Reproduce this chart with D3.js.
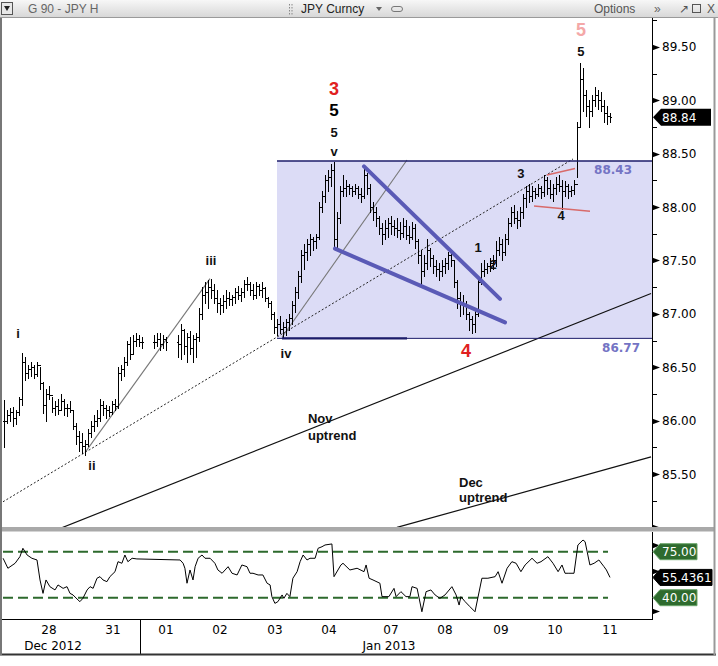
<!DOCTYPE html>
<html><head><meta charset="utf-8">
<script src="https://cdn.jsdelivr.net/npm/d3@7"></script>
<style>html,body{margin:0;padding:0;background:#fff;} svg{display:block;}</style>
</head><body>
<svg id="c" width="718" height="666"></svg>
<script>
// ---------- DATA (hourly USD/JPY bars, index = bar number) ----------
const highs = [
86.19,86.10,86.12,86.13,86.10,86.22,86.63,86.60,86.52,86.55,
86.52,86.55,86.50,86.36,86.30,86.32,86.22,86.18,86.20,86.25,
86.20,86.16,86.18,86.10,85.98,85.90,85.88,85.82,85.92,86.00,
86.05,86.10,86.20,86.18,86.15,86.14,86.18,86.20,86.50,86.52,
86.60,86.75,86.78,86.80,86.82,86.80,86.78,null,null,null,
86.80,86.82,86.82,86.80,86.78,null,null,null,86.80,86.90,
86.86,86.82,86.84,86.80,86.82,87.05,87.25,87.30,87.32,87.33,
87.28,87.22,87.15,87.18,87.22,87.20,87.18,87.24,87.26,87.24,
87.32,87.34,87.30,87.28,87.30,87.28,87.30,87.25,87.16,87.12,
87.02,86.95,86.98,86.92,86.95,87.00,87.12,87.25,87.40,87.60,
87.65,87.70,87.75,87.72,87.75,88.05,88.15,88.30,88.35,88.40,
88.42,87.95,88.20,88.30,88.25,88.22,88.20,88.22,88.20,88.18,
88.38,88.32,88.22,88.05,88.00,87.92,87.85,87.88,87.90,87.92,
87.88,87.90,87.86,87.90,87.88,87.82,87.86,87.84,87.70,87.60,
87.55,87.70,87.62,87.55,87.50,87.48,87.50,87.52,87.58,87.60,
87.50,87.32,87.20,87.18,87.12,87.02,86.98,87.05,87.35,87.48,
87.50,87.48,87.52,87.55,87.68,87.72,87.70,87.75,87.90,88.00,
88.02,87.96,88.00,88.12,88.20,88.22,88.20,88.18,88.22,88.20,
88.30,88.28,88.25,88.22,88.28,88.30,88.25,88.24,88.22,88.20,
88.25,88.80,89.35,89.30,89.10,89.00,89.05,89.12,89.10,89.08,
89.00,88.95,88.88];
const lows = [
85.75,85.98,86.00,85.95,85.97,86.05,86.15,86.38,86.40,86.42,
86.40,86.42,86.30,86.07,86.00,86.20,86.08,86.05,86.06,86.10,
86.05,86.04,86.08,85.92,85.78,85.72,85.70,85.68,85.76,85.85,
85.90,85.95,86.00,86.05,86.02,86.04,86.06,86.10,86.12,86.38,
86.42,86.52,86.58,86.62,86.70,86.70,86.68,null,null,null,
86.68,86.70,86.66,86.68,86.66,null,null,null,86.60,86.58,
86.62,86.55,86.62,86.55,86.60,86.75,86.95,87.10,87.05,87.15,
87.10,87.02,87.00,87.02,87.05,87.08,87.08,87.10,87.14,87.12,
87.16,87.22,87.18,87.14,87.15,87.18,87.16,87.12,87.06,86.95,
86.82,86.80,86.82,86.78,86.80,86.85,86.90,87.02,87.15,87.30,
87.42,87.50,87.55,87.60,87.62,87.70,87.95,88.05,88.15,88.20,
87.62,87.62,87.85,88.10,88.10,88.12,88.10,88.12,88.08,88.05,
88.08,88.12,87.95,87.88,87.82,87.75,87.65,87.70,87.72,87.75,
87.74,87.72,87.70,87.72,87.70,87.66,87.70,87.62,87.48,87.25,
87.35,87.42,87.45,87.38,87.35,87.32,87.35,87.38,87.42,87.45,
87.25,87.05,86.98,87.00,86.95,86.85,86.82,86.83,86.98,87.28,
87.35,87.38,87.40,87.42,87.45,87.55,87.50,87.55,87.65,87.82,
87.85,87.80,87.82,87.90,88.00,88.05,88.06,88.08,88.10,88.08,
88.10,88.12,88.08,88.06,88.12,88.15,87.98,88.10,88.08,88.10,
88.12,88.28,88.75,88.90,88.85,88.75,88.85,88.95,88.92,88.90,
88.80,88.78,88.80];
const closes = [
86.00,86.05,86.08,86.02,86.08,86.20,86.55,86.45,86.48,86.50,
86.44,86.52,86.35,86.15,86.25,86.24,86.12,86.14,86.10,86.18,
86.12,86.12,86.10,85.95,85.86,85.80,85.76,85.78,85.88,85.95,
86.00,86.02,86.15,86.12,86.10,86.08,86.16,86.14,86.45,86.48,
86.55,86.72,86.62,86.75,86.76,86.74,86.74,null,null,null,
86.74,86.76,86.72,86.76,86.74,null,null,null,86.72,86.85,
86.70,86.78,86.68,86.76,86.78,87.00,87.18,87.20,87.25,87.22,
87.15,87.10,87.08,87.12,87.15,87.14,87.16,87.20,87.18,87.20,
87.28,87.28,87.22,87.18,87.26,87.22,87.24,87.15,87.10,87.00,
86.88,86.90,86.86,86.88,86.92,86.96,87.08,87.20,87.35,87.55,
87.58,87.65,87.70,87.68,87.72,88.00,88.10,88.25,88.28,88.35,
87.70,87.90,88.15,88.18,88.20,88.18,88.15,88.18,88.12,88.10,
88.30,88.18,88.00,87.95,87.90,87.80,87.75,87.80,87.85,87.82,
87.80,87.78,87.76,87.82,87.74,87.72,87.80,87.68,87.55,87.40,
87.48,87.60,87.52,87.45,87.42,87.40,87.45,87.48,87.55,87.50,
87.30,87.15,87.10,87.08,87.00,86.95,86.90,87.00,87.30,87.40,
87.42,87.45,87.48,87.50,87.60,87.65,87.58,87.70,87.85,87.95,
87.90,87.88,87.95,88.08,88.15,88.10,88.15,88.12,88.18,88.14,
88.25,88.18,88.12,88.18,88.22,88.20,88.15,88.20,88.15,88.16,
88.22,88.75,89.20,89.05,88.95,88.90,89.00,89.05,89.00,88.95,
88.88,88.85,88.84];

// RSI readings (position in bar units, value)
const rsiPos = [-0.3,1.3,3.7,5.3,6.3,7.7,9.3,11,12,13,14,15.3,17,18,19.7,21,22,23,24.7,25.3,26.3,27.7,28.7,29.7,31,32,33,34.3,35.3,37,38,39.3,40.3,41.3,42.7,44.3,58.7,59.7,60.3,61,62,63,63.7,64.7,66,67,68.7,70.3,71.3,72.7,73.7,74.7,76,77.7,79.3,81,82,83,84.7,86.3,87.7,88.7,89.3,90.3,91.3,92.7,93.3,94.3,95.3,96.3,97.7,98.7,99.7,101,102,103.7,104.7,106,107,109.3,110,112.3,113,115.3,117.7,120,120.7,121.7,123,125.3,126,128.3,130,130.7,132.3,134,135.3,136,137.7,139.3,140.7,142.3,143.7,145.3,147,149.3,150.7,151.7,152.3,153.7,155.3,157,159.3,161.3,163.7,164.7,166,167.7,169.3,170.7,172.3,173.7,176,177.7,179,181.3,183,184.7,186,187,188.3,190,191.3,193,193.7,195.3,196.7,198.3,200,200.8,202];
const rsiVal = [70,62.4,66.2,71.2,77.6,72.5,70,68.7,53.5,43.3,53.5,48.4,45.9,49.7,47.1,48.4,43.3,42.1,38.2,37,39.5,45.9,48.4,47.1,54.8,56,53.5,52.2,56,59.8,67.4,66.2,72.5,67.4,70,69.5,68.7,66.2,62.4,51,61.1,53.5,63.6,70,72.5,70,70,66.2,61.1,58.6,61.1,63.6,58.6,57.3,64.9,63.6,58.6,58.6,57.3,57.3,51,49.7,40.8,35.7,37,42.1,39.5,43.3,40.8,54.8,59.8,67.4,72.5,68.7,70,70,77.6,78.8,80.1,80.9,56,64.9,66.2,61.1,62.4,59.8,64.9,54.8,53.5,51,40.8,40.8,47.1,40.8,44.6,40.8,40.8,48.4,47.1,29.3,44.6,45.9,42.1,39.5,42.1,48.4,42.1,34.4,40.8,37,33.2,29.3,54.8,54.8,56,59.8,51,62.4,67.4,66.2,59.8,64.9,70,66.2,67.4,71.2,66.2,59.8,64.9,58.6,58.6,58.6,80.1,83.9,82.6,64.9,66.2,68.7,63.6,61.1,55.4361];
const rsiLevels = [75, 40];
const rsiTicks = [80, 60, 30];

const priceTicks = [85.5,86,86.5,87,87.5,88,88.5,89,89.5];
const dayLabels = ["28","31","01","02","03","04","07","08","09","10","11"];
const dayPos = [15,36.33,54,72,90.33,108.33,129,147,165.67,183.67,202];
const monthLabels = ["Dec 2012","Jan 2013"];
const monthPos = [16.33,128.33];
const yearBreakPos = 45.33;

// rectangle zone levels
const boxTop = 88.43, boxBottom = 86.77, boxStart = 91;

// ---------- SCALES ----------
const svg = d3.select('#c');
const x = d3.scaleLinear().domain([0,202]).range([4,610]);
const y = d3.scaleLinear().domain([85,89.5]).range([527.4,46.8]);
const ry = d3.scaleLinear().domain([40,75]).range([597.7,551.7]);
const PL = 2, PR = 652, PT = 18, PB = 527;
const axFont = "'DejaVu Sans', sans-serif";
const annFont = "'Liberation Sans', Arial, sans-serif";

// ---------- TOP BAR ----------
const defs = svg.append('defs');
const g1 = defs.append('linearGradient').attr('id','tb').attr('x1',0).attr('y1',0).attr('x2',0).attr('y2',1);
g1.append('stop').attr('offset','0%').attr('stop-color','#f7f7f7');
g1.append('stop').attr('offset','100%').attr('stop-color','#d6d6d6');
defs.append('clipPath').attr('id','plot').append('rect').attr('x',PL).attr('y',PT).attr('width',PR-PL).attr('height',PB-PT);
defs.append('clipPath').attr('id','rsi').append('rect').attr('x',PL).attr('y',532).attr('width',PR-PL).attr('height',87);

svg.append('rect').attr('x',0).attr('y',0).attr('width',718).attr('height',18).attr('fill','url(#tb)');
svg.append('line').attr('x1',0).attr('x2',718).attr('y1',17.5).attr('y2',17.5).attr('stroke','#9a9a9a');
svg.append('rect').attr('x',1.5).attr('y',2.5).attr('width',11).attr('height',12).attr('fill','#e8e8e8').attr('stroke','#555');
svg.append('path').attr('d','M4,6 L10,6 L7,11 Z').attr('fill','#222');
const tb = (t,xx,opt={}) => svg.append('text').attr('x',xx).attr('y',13).text(t)
  .attr('font-family',annFont).attr('font-size',opt.fs||12).attr('fill',opt.fill||'#666').attr('text-anchor',opt.anchor||'start');
tb('G 90 - JPY H',28);
for(let k=0;k<4;k++){svg.append('rect').attr('x',289).attr('y',4+k*3).attr('width',1).attr('height',1.5).attr('fill','#888');svg.append('rect').attr('x',291.5).attr('y',4+k*3).attr('width',1).attr('height',1.5).attr('fill','#888');}
tb('JPY Curncy',301,{fill:'#222'});
svg.append('path').attr('d','M376,7 L382,7 L379,11 Z').attr('fill','#666');
svg.append('rect').attr('x',391.5).attr('y',6.5).attr('width',11).attr('height',5).attr('rx',2.5).attr('fill','none').attr('stroke','#777');
tb('Options',594,{fill:'#555'});
tb('\u00bb',654,{fill:'#666',fs:12});
tb('\u2197',684,{fill:'#555',fs:12,anchor:'middle'});
svg.append('rect').attr('x',692.5).attr('y',4.5).attr('width',8).attr('height',8).attr('fill','none').attr('stroke','#555');
tb('X',711,{fill:'#555',fs:12,anchor:'middle'});

// ---------- MAIN PLOT ----------
const plot = svg.append('g').attr('clip-path','url(#plot)');
plot.append('rect').attr('x',x(boxStart)).attr('y',y(boxTop)).attr('width',PR-x(boxStart)).attr('height',y(boxBottom)-y(boxTop)).attr('fill','#dcdcf6');

const seg = (a,b,stroke,w,dash) => {
  const l = plot.append('line').attr('x1',x(a[0])).attr('y1',y(a[1])).attr('x2',x(b[0])).attr('y2',y(b[1]))
    .attr('stroke',stroke).attr('stroke-width',w);
  if(dash) l.attr('stroke-dasharray',dash);
  return l;
};
seg([18.67,84.99],[215.67,87.19],'#111',1.2);      // Nov uptrend
seg([131,85.0],[215.67,85.66],'#111',1.2);         // Dec uptrend
seg([-0.33,85.24],[189.67,88.45],'#222',1,'2,2');  // dotted channel
seg([27,85.70],[68.67,87.33],'#777',1.1);           // ii -> iii
seg([92.67,86.78],[134.33,88.44],'#777',1.1);       // iv -> v

// OHLC bars
const bars = plot.append('g').attr('stroke','#000').attr('stroke-width',1).attr('shape-rendering','crispEdges');
let prevClose = null;
highs.forEach((h,i)=>{
  if(h==null) return;
  const xi = Math.round(x(i))+0.5;
  const o = prevClose==null ? closes[i] : prevClose;
  bars.append('line').attr('x1',xi).attr('x2',xi).attr('y1',Math.round(y(h))).attr('y2',Math.round(y(lows[i]))+1);
  bars.append('line').attr('x1',xi-1.5).attr('x2',xi).attr('y1',Math.round(y(o))+0.5).attr('y2',Math.round(y(o))+0.5);
  bars.append('line').attr('x1',xi).attr('x2',xi+1.5).attr('y1',Math.round(y(closes[i]))+0.5).attr('y2',Math.round(y(closes[i]))+0.5);
  prevClose = closes[i];
});

// box borders
plot.append('line').attr('x1',x(boxStart)).attr('x2',PR).attr('y1',y(boxTop)).attr('y2',y(boxTop)).attr('stroke','#1c1c6a').attr('stroke-width',1.5);
plot.append('line').attr('x1',x(boxStart)).attr('x2',PR).attr('y1',y(boxBottom)).attr('y2',y(boxBottom)).attr('stroke','#1c1c6a').attr('stroke-width',1);
plot.append('line').attr('x1',x(92.67)).attr('x2',x(134.33)).attr('y1',y(boxBottom)).attr('y2',y(boxBottom)).attr('stroke','#1c1c6a').attr('stroke-width',2.2);

// wedge & small triangle
seg([120,88.38],[165.33,87.14],'#5a5ab6',4).attr('stroke-linecap','round');
seg([110.33,87.61],[167,86.92],'#5a5ab6',4).attr('stroke-linecap','round');
seg([181,88.30],[190.33,88.36],'#d86a6a',1.4);
seg([176.67,88.01],[195.33,87.96],'#d86a6a',1.4);

plot.append('text').attr('x',632).attr('y',y(boxTop)+13).attr('text-anchor','end').text('88.43')
  .attr('font-family',axFont).attr('font-size',12).attr('font-weight','bold').attr('fill','#7474c4');
plot.append('text').attr('x',640).attr('y',y(boxBottom)+14).attr('text-anchor','end').text('86.77')
  .attr('font-family',axFont).attr('font-size',12).attr('font-weight','bold').attr('fill','#7474c4');

const waveLabels = [
 ['i',4.67,86.77,13,'#111','middle'],['ii',29.33,85.54,13,'#111','middle'],['iii',69,87.46,13,'#111','middle'],
 ['iv',94,86.59,13,'#111','middle'],['v',110,88.48,13,'#111','middle'],['5',110,88.66,13,'#111','middle'],
 ['5',110,88.85,17,'#000','middle'],['3',110,89.05,18,'#e02020','middle'],['4',154,86.60,18,'#e02020','middle'],
 ['1',158,87.58,13,'#111','middle'],['2',163,87.42,13,'#111','middle'],['3',172.33,88.27,13,'#111','middle'],
 ['4',185.67,87.88,13,'#111','middle'],['5',192.33,89.41,13,'#111','middle'],['5',192.33,89.60,18,'#f4a8a8','middle'],
 ['Nov',101.33,85.98,13,'#111','start'],['uptrend',101.33,85.82,13,'#111','start'],
 ['Dec',151.67,85.38,13,'#111','start'],['uptrend',151.67,85.24,13,'#111','start']];
waveLabels.forEach(d=>{
  plot.append('text').attr('x',x(d[1])).attr('y',y(d[2])).text(d[0]).attr('text-anchor',d[5])
    .attr('font-family',annFont).attr('font-weight','bold').attr('font-size',d[3]).attr('fill',d[4]);
});

// ---------- RIGHT PRICE AXIS ----------
svg.append('line').attr('x1',PR+0.5).attr('x2',PR+0.5).attr('y1',PT).attr('y2',PB).attr('stroke','#000');
const minor = d3.range(85.25,89.76,0.5);
minor.forEach(v=>svg.append('line').attr('x1',PR).attr('x2',PR+5).attr('y1',Math.round(y(v))+0.5).attr('y2',Math.round(y(v))+0.5).attr('stroke','#000'));
priceTicks.concat([85]).forEach(v=>{
  const yy = Math.round(y(v))+0.5;
  svg.append('path').attr('d',`M${PR},${yy-3} L${PR+8},${yy} L${PR},${yy+3} Z`).attr('fill','#000');
});
priceTicks.forEach(v=>{
  svg.append('text').attr('x',PR+10).attr('y',y(v)+4.5).text(v.toFixed(2))
    .attr('font-family',axFont).attr('font-size',12).attr('fill','#000');
});
const lastC = closes[closes.length-1];
const ly = y(lastC);
svg.append('path').attr('d',`M${PR+1},${ly} L${PR+9},${ly-8.5} L711,${ly-8.5} L711,${ly+8.5} L${PR+9},${ly+8.5} Z`).attr('fill','#000');
svg.append('text').attr('x',PR+10).attr('y',ly+4.5).text(lastC.toFixed(2))
  .attr('font-family',axFont).attr('font-size',12).attr('fill','#fff');

// ---------- SEPARATOR ----------
svg.append('rect').attr('x',2).attr('y',527).attr('width',712).attr('height',4.5).attr('fill','#a9a9a9');

// ---------- RSI PANEL ----------
const rg = svg.append('g').attr('clip-path','url(#rsi)');
rsiLevels.forEach(v=>{
  rg.append('line').attr('x1',3).attr('x2',608).attr('y1',ry(v)).attr('y2',ry(v))
    .attr('stroke','#2d6a2d').attr('stroke-width',2).attr('stroke-dasharray','10,5');
});
const rsiPts = rsiPos.map((p,k)=>[x(p),ry(rsiVal[k])]);
rg.append('path').attr('d',d3.line()(rsiPts)).attr('fill','none').attr('stroke','#000').attr('stroke-width',1);

svg.append('line').attr('x1',PR+0.5).attr('x2',PR+0.5).attr('y1',532).attr('y2',619).attr('stroke','#000');
rsiTicks.forEach(v=>{
  const yy = Math.round(ry(v))+0.5;
  svg.append('path').attr('d',`M${PR},${yy-3} L${PR+8},${yy} L${PR},${yy+3} Z`).attr('fill','#000');
});
const tag = (v,label,fill,stroke,w) => {
  const yy = ry(v);
  svg.append('path').attr('d',`M${PR+1},${yy} L${PR+8},${yy-8} L${PR+w},${yy-8} L${PR+w},${yy+8} L${PR+8},${yy+8} Z`)
    .attr('fill',fill).attr('stroke',stroke).attr('stroke-width',1);
  svg.append('text').attr('x',PR+10).attr('y',yy+4.5).text(label).attr('font-family',axFont).attr('font-size',12).attr('fill','#fff');
};
tag(75,'75.00','#2e6b2e','#6aa56a',45);
tag(40,'40.00','#2e6b2e','#6aa56a',45);
tag(rsiVal[rsiVal.length-1],rsiVal[rsiVal.length-1].toFixed(4),'#000','#000',60);

// ---------- X AXIS ----------
svg.append('line').attr('x1',2).attr('x2',PR+1).attr('y1',619.5).attr('y2',619.5).attr('stroke','#000');
svg.append('line').attr('x1',Math.round(x(yearBreakPos))+0.5).attr('x2',Math.round(x(yearBreakPos))+0.5).attr('y1',619).attr('y2',654).attr('stroke','#000');
dayLabels.forEach((d,k)=>svg.append('text').attr('x',x(dayPos[k])).attr('y',634).attr('text-anchor','middle').text(d)
  .attr('font-family',axFont).attr('font-size',12).attr('fill','#000'));
monthLabels.forEach((d,k)=>svg.append('text').attr('x',x(monthPos[k])).attr('y',650).attr('text-anchor','middle').text(d)
  .attr('font-family',axFont).attr('font-size',12).attr('fill','#000'));

// ---------- FRAME ----------
svg.append('line').attr('x1',0).attr('x2',716).attr('y1',654.5).attr('y2',654.5).attr('stroke','#333').attr('stroke-width',2);
svg.append('line').attr('x1',1).attr('x2',1).attr('y1',18).attr('y2',655).attr('stroke','#777').attr('stroke-width',2);
svg.append('line').attr('x1',714.5).attr('x2',714.5).attr('y1',18).attr('y2',655).attr('stroke','#999').attr('stroke-width',2);
</script>
</body></html>
